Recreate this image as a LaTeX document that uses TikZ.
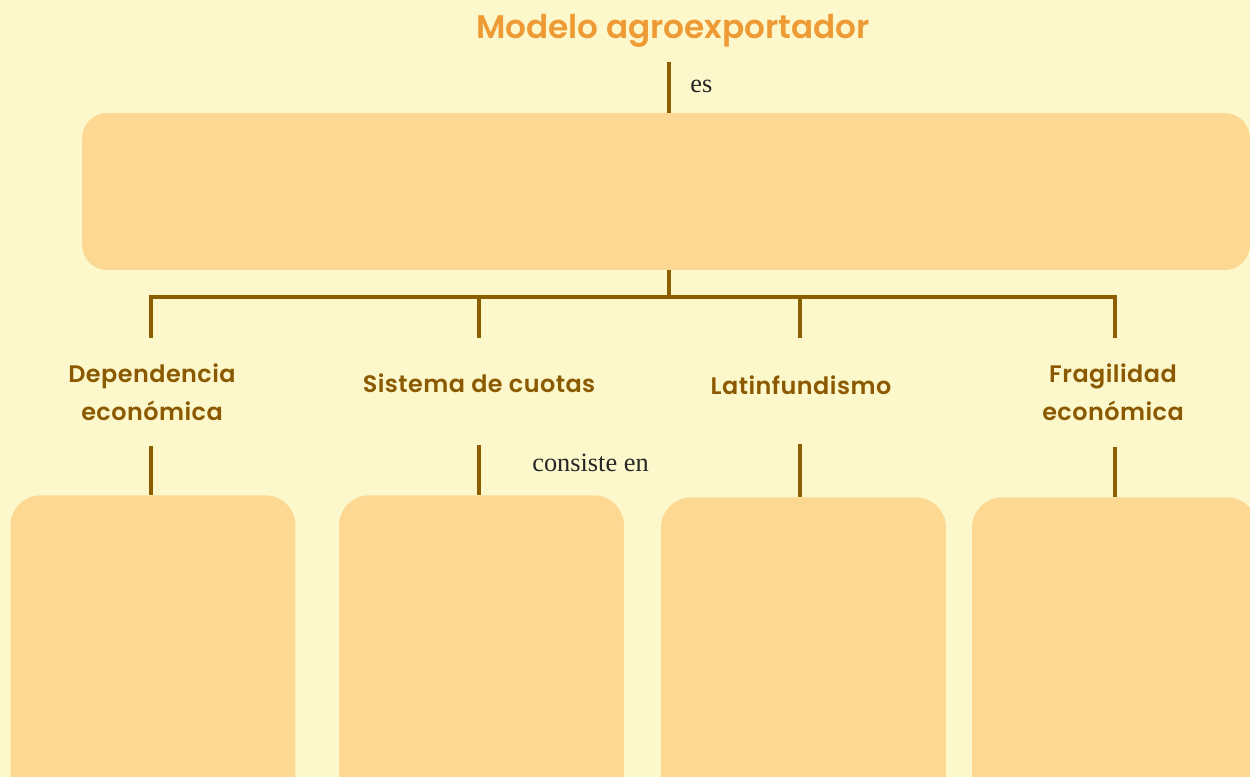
\documentclass[tikz,border=0pt]{standalone}
\usepackage{fontspec}
\setmainfont{Liberation Serif}
\newfontfamily\labfont[LetterSpace=2]{Poppins SemiBold}
\newfontfamily\titfont{Poppins SemiBold}
\definecolor{bg}{HTML}{FCF8CC}
\definecolor{boxc}{HTML}{FDD892}
\definecolor{linec}{HTML}{8B5E00}
\definecolor{labc}{HTML}{8B5A00}
\definecolor{titc}{HTML}{EE9B35}
\tikzset{
  conn/.style={draw=linec, line width=0.08cm},
  bigbox/.style={fill=boxc, draw=none, rounded corners=0.5cm, inner sep=0pt},
  lowbox/.style={fill=boxc, draw=none, rounded corners=0.6cm, inner sep=0pt, minimum width=5.7cm, minimum height=6.4cm},
  lab/.style={text=labc, font=\labfont\fontsize{13.6}{21.5}\selectfont, align=center, inner sep=0pt},
  word/.style={text=black!85, font=\fontsize{15}{18}\selectfont, inner sep=0pt, anchor=west},
}
\begin{document}
\begin{tikzpicture}[x=0.02cm, y=-0.02cm]
\fill[bg] (0,0) rectangle (1250,777);
\useasboundingbox (0,0) rectangle (1250,777);
\clip (0,0) rectangle (1250,777);
\node[text=titc, font=\titfont\fontsize{18.6}{22}\selectfont, inner sep=0pt] (title) at (673,31) {Modelo agroexportador};
\node[bigbox, minimum width=23.36cm, minimum height=3.14cm] (top) at (666,191.5) {};
\coordinate (t1) at (669,62);
\draw[conn] (t1) -- (t1 |- top.north);
\node[word] (es) at (690,86) {es};
% tree
\coordinate (bar) at (669,297);
\coordinate (b1) at (151,297);
\coordinate (b2) at (479,297);
\coordinate (b3) at (800,297);
\coordinate (b4) at (1115,297);
\draw[conn] (top.south -| bar) -- (bar);
\draw[conn] ([xshift=-0.04cm]b1) -- ([xshift=0.04cm]b4);
\node[lab] (l1) at (152,392) {Dependencia\\económica};
\node[lab] (l2) at (479,383) {Sistema de cuotas};
\node[lab] (l3) at (801,385) {Latinfundismo};
\node[lab] (l4) at (1113,392) {Fragilidad\\económica};
\coordinate (d1) at (151,338);
\coordinate (d2) at (479,338);
\coordinate (d3) at (800,338);
\coordinate (d4) at (1115,338);
\draw[conn] (b1) -- (d1);
\draw[conn] (b2) -- (d2);
\draw[conn] (b3) -- (d3);
\draw[conn] (b4) -- (d4);
% lower boxes
\node[lowbox, anchor=north] (x1) at (153,495) {};
\node[lowbox, anchor=north] (x2) at (481.5,495) {};
\node[lowbox, anchor=north] (x3) at (803.5,497) {};
\node[lowbox, anchor=north] (x4) at (1114.5,497) {};
\coordinate (u1) at (151,446);
\coordinate (u2) at (479,445);
\coordinate (u3) at (800,444);
\coordinate (u4) at (1115,447);
\draw[conn] (u1) -- (u1 |- x1.north);
\draw[conn] (u2) -- (u2 |- x2.north);
\draw[conn] (u3) -- (u3 |- x3.north);
\draw[conn] (u4) -- (u4 |- x4.north);
\node[word] (cons) at (532,463) {consiste en};
\end{tikzpicture}
\end{document}
